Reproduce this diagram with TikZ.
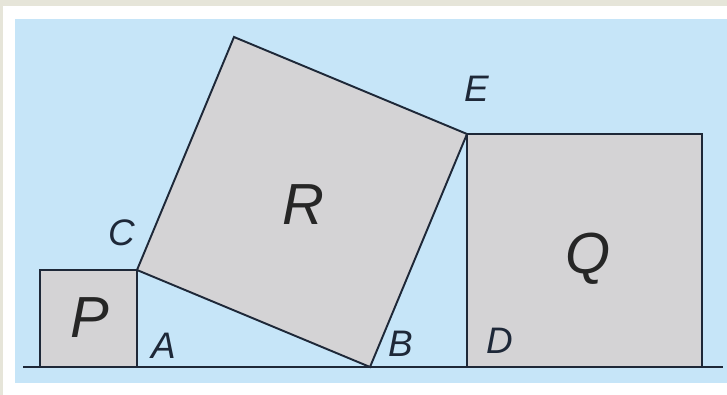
\documentclass[tikz,border=0pt]{standalone}
\usepackage{fontspec}
\setmainfont{Liberation Sans}
\definecolor{frame}{HTML}{E6E5D9}
\definecolor{sky}{HTML}{C6E5F8}
\definecolor{sqfill}{HTML}{D4D3D5}
\definecolor{ink}{HTML}{1E2838}
\tikzset{
  square/.style={draw=ink,fill=sqfill,line width=1.1pt,line join=miter},
  small/.style={font=\fontsize{21}{23}\selectfont\itshape,text=ink,inner sep=0pt},
  big/.style={font=\fontsize{33}{36}\selectfont\itshape,text=black!85,inner sep=0pt}
}
\begin{document}
\begin{tikzpicture}[x=0.02cm,y=-0.02cm]
      % background
      \fill[frame] (0,0) rectangle (727,395);
      \fill[white] (3,6) rectangle (727,395);
      \fill[sky] (15,19) rectangle (727,383);
      \useasboundingbox (0,0) rectangle (727,395);
      % corners
      \coordinate (c) at (137,270);
      \coordinate (a) at (137,367);
      \coordinate (b) at (370,367);
      \coordinate (d) at (467,367);
      \coordinate (e) at (467,134);
      \coordinate (f) at (234,37);
      \coordinate (left) at (23,367);
      \coordinate (right) at (723,367);
      % squares
      \draw[square] (40,367) rectangle (c);
      \draw[square] (c) -- (b) -- (e) -- (f) -- cycle;
      \draw[square] (d) rectangle (702,134);
      \draw[ink,line width=1.1pt] (left) -- (right);
      % labels
      \draw
        (122,233) node[small] (C){C}
        (164,346) node[small] (A){A}
        (401,344) node[small] (B){B}
        (500,341) node[small] (D){D}
        (477,89) node[small] (E){E}
        (90,318) node[big] (P){P}
        (303,205) node[big] (R){R}
        (588,259) node[big] (Q){Q};
    \end{tikzpicture}
\end{document}
